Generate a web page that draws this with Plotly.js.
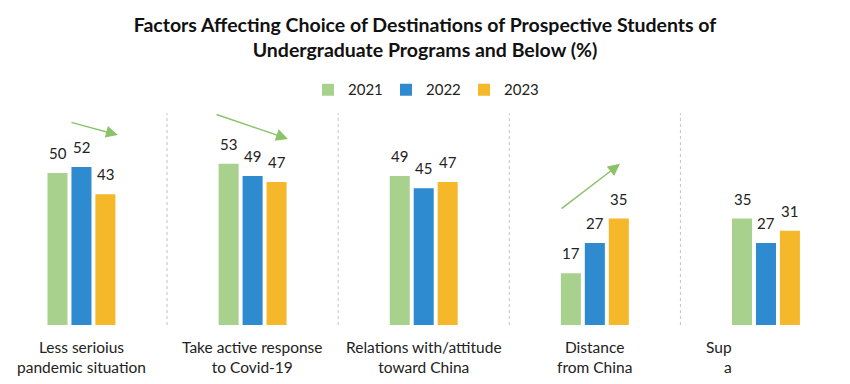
<!DOCTYPE html>
<html>
<head>
<meta charset="utf-8">
<script src="https://cdn.plot.ly/plotly-3.0.1.min.js"></script>
<style>html,body{margin:0;padding:0;background:#fff;}#chart{width:850px;height:384px;}</style>
</head>
<body>
<div id="chart"></div>
<script>
// ---- data ----
var categories = [
  "Less serioius<br>pandemic situation",
  "Take active response<br>to Covid-19",
  "Relations with/attitude<br>toward China",
  "Distance<br>from China",
  "Sup<br>a"
];
var years = ["2021", "2022", "2023"];
var values2021 = [50, 53, 49, 17, 35];
var values2022 = [52, 49, 45, 27, 27];
var values2023 = [43, 47, 47, 35, 31];
var titleText = "Factors Affecting Choice of Destinations of Prospective Students of<br>Undergraduate Programs and Below (%)";

// ---- styling ----
var series = [values2021, values2022, values2023];
var colors = ["#a9d18e", "#2e8bcf", "#f5b82a"];
var barW = 0.117, step = 0.14;
var FONT = "Lato, 'Open Sans', sans-serif";
var idx = categories.map(function (_, i) { return i; });

var traces = series.map(function (vals, k) {
  var c = (k - 1) * step;
  return {
    type: "bar", name: years[k], x: idx, y: vals,
    width: barW, offset: c - barW / 2,
    marker: { color: colors[k] }, hoverinfo: "skip"
  };
});

var annotations = [];
// value labels
series.forEach(function (vals, k) {
  var c = (k - 1) * step;
  vals.forEach(function (v, i) {
    annotations.push({
      x: i + c, y: v, xref: "x", yref: "y", text: String(v), showarrow: false,
      yanchor: "middle", yshift: 20, font: { family: FONT, size: 15, color: "#222" }
    });
  });
});
// category labels
categories.forEach(function (t, i) {
  var last = i === categories.length - 1;
  annotations.push({
    x: last ? i - 0.187 : i, y: 0, xref: "x", yref: "y", text: t, showarrow: false,
    xanchor: last ? "right" : "center", align: last ? "right" : "center",
    yanchor: "top", yshift: -11, font: { family: FONT, size: 15.5, color: "#222" }
  });
});
// trend arrows (decorations)
var arrows = [
  { x: 0.213, y: 62.5, ax: -48, ay: -13 },
  { x: 1.207, y: 61.2, ax: -73, ay: -25 },
  { x: 3.147, y: 53.0, ax: -60, ay: 46 }
];
arrows.forEach(function (a) {
  annotations.push({
    x: a.x, y: a.y, xref: "x", yref: "y", ax: a.ax, ay: a.ay, text: "",
    showarrow: true, arrowhead: 2, arrowsize: 1.6, arrowwidth: 1.5,
    arrowcolor: "#8cc36a", standoff: 0
  });
});

// dashed dividers
var shapes = [];
for (var i = 0; i < categories.length - 1; i++) {
  shapes.push({
    type: "line", xref: "x", yref: "y", x0: i + 0.5, x1: i + 0.5, y0: 0, y1: 69.7,
    line: { color: "#c4c4c4", width: 1, dash: "3px,3px" }
  });
}

var layout = {
  width: 850, height: 384,
  margin: { l: 0, r: 0, t: 100, b: 59 },
  paper_bgcolor: "#ffffff", plot_bgcolor: "#ffffff",
  font: { family: FONT, color: "#222" },
  title: {
    text: titleText, x: 0.5, xanchor: "center", y: 1 - 32 / 384, yanchor: "top",
    yref: "container", font: { family: FONT, size: 19.5, color: "#111", weight: "bold" }
  },
  barmode: "overlay",
  xaxis: { range: [-0.476, 4.491], showticklabels: false, showgrid: false, zeroline: false, showline: false, ticks: "", fixedrange: true },
  yaxis: { range: [0, 74], visible: false, showgrid: false, zeroline: false, fixedrange: true },
  showlegend: true,
  legend: {
    orientation: "h", x: 0.5, xanchor: "center", y: 1.045, yanchor: "middle",
    font: { family: FONT, size: 15, color: "#222" }, entrywidth: 33, entrywidthmode: "pixels",
    itemwidth: 30, bgcolor: "rgba(0,0,0,0)"
  },
  annotations: annotations,
  shapes: shapes
};

Plotly.newPlot("chart", traces, layout, { displayModeBar: false, staticPlot: true });
</script>
</body>
</html>
